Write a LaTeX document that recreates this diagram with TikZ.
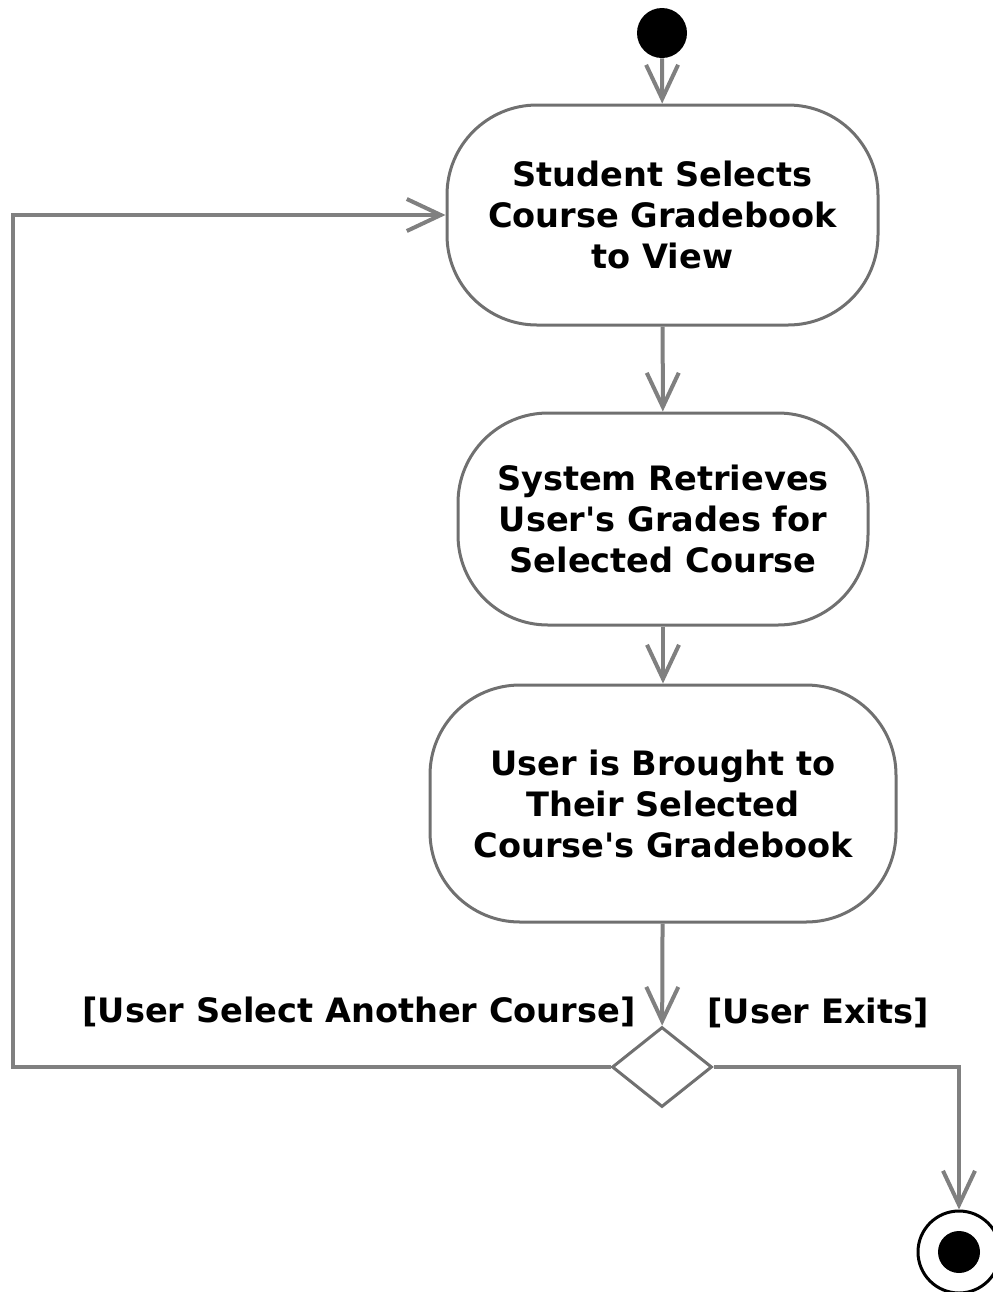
\documentclass[tikz,border=0pt]{standalone}
\usepackage{fontspec}
\setmainfont{DejaVu Sans}
\usetikzlibrary{arrows.meta}
\usetikzlibrary{shapes.geometric}
\definecolor{flowgray}{RGB}{128,128,128}
\definecolor{framegray}{RGB}{112,112,112}
\newcommand \actfont {\bfseries\fontsize{16.8}{20.5}\selectfont}
\tikzset{
	action/.style={
		rectangle,
		draw=framegray,
		line width=1.5pt,
		rounded corners=45pt,
		align=center,
		inner sep=0pt,
		font=\actfont
	},
	initnode/.style={
		circle,
		fill=black,
		inner sep=0pt,
		minimum size=25pt
	},
	finalnode/.style={
		circle,
		draw=black,
		line width=1.5pt,
		inner sep=0pt,
		minimum size=41pt
	},
	decision/.style={
		diamond,
		draw=framegray,
		line width=1.5pt,
		inner sep=0pt,
		minimum width=50pt,
		minimum height=40pt
	},
	guard/.style={
		inner sep=0pt,
		font=\actfont
	},
	flow/.style={
		draw=flowgray,
		line width=2pt,
		-{Straight Barb[length=17pt,width=16pt]}
	}
}
\begin{document}
\begin{tikzpicture} [x=0.5pt, y=-0.5pt]
	\useasboundingbox (0,0) rectangle (992,1292);
	\node [initnode] (start) at (662,33) {};
	\node [action, minimum width=215.5pt, minimum height=110pt] (select) at (662.5,215) {Student Selects\\Course Gradebook\\to View};
	\node [action, minimum width=205pt, minimum height=106pt] (retrieve) at (663,519) {System Retrieves\\User\textquotesingle s Grades for\\Selected Course};
	\node [action, minimum width=233pt, minimum height=118.5pt] (bring) at (663,803.5) {User is Brought to\\Their Selected\\Course\textquotesingle s Gradebook};
	\node [decision] (choice) at (662,1067) {};
	\node [finalnode] (end) at (959,1252) {};
	\fill (end.center) circle (10.5pt);
	\coordinate (back) at (13,1067);

	\node [guard, anchor=east] (another) at (636,1012) {[User Select Another Course]};
	\node [guard, anchor=west] (exits) at (707,1013) {[User Exits]};

	\draw [flow] (start) -- (select);
	\draw [flow] (select) -- (retrieve);
	\draw [flow] (retrieve) -- (bring);
	\draw [flow] (bring) -- (choice);
	\draw [flow] (choice.west) -- (back) |- (select.west);
	\draw [flow] (choice.east) -| (end.north);
\end{tikzpicture}
\end{document}
